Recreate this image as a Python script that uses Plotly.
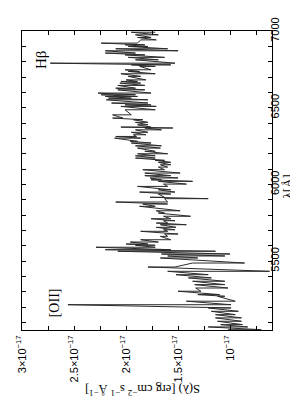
import plotly.graph_objects as go

# Spectrum: for each wavelength sample, the local
# high and low of the jagged trace (flux in units of 1e-17 erg cm^-2 s^-1 A^-1)
wave_rows = [5052, 5070, 5085, 5107, 5129, 5150, 5172, 5194, 5215, 5238,
             5270, 5281, 5303, 5324, 5346, 5368, 5390, 5411, 5433, 5461,
             5487, 5520, 5533, 5546, 5564, 5574, 5590, 5603, 5611, 5624,
             5639, 5661, 5676, 5694, 5704, 5720, 5737, 5748, 5763, 5776,
             5792, 5813, 5828, 5857, 5872, 5885, 5907, 5916, 5937, 5950,
             5965, 5987, 6002, 6020, 6030, 6042, 6057, 6074, 6096, 6113,
             6128, 6144, 6157, 6172, 6187, 6200, 6216, 6237, 6252, 6270,
             6281, 6302, 6313, 6324, 6340, 6356, 6368, 6374, 6389, 6405,
             6422, 6433, 6454, 6487, 6509, 6519, 6531, 6552, 6563, 6574,
             6585, 6596, 6617, 6628, 6646, 6661, 6672, 6682, 6705, 6722,
             6737, 6748, 6770, 6780, 6791, 6813, 6829, 6845, 6857, 6872,
             6885, 6900, 6911, 6922, 6943, 6959, 6976, 6993]
flux_high = [1.02, 1.21, 1.09, 1.12, 1.14, 1.14, 1.18, 1.21, 2.56, 1.42,
             1.12, 1.31, 1.50, 1.33, 1.34, 1.36, 1.40, 1.52, 1.60, 1.79,
             1.36, 1.67, 1.60, 1.66, 2.08, 2.20, 2.29, 1.91, 2.00, 1.96,
             1.86, 1.67, 1.63, 1.86, 1.64, 1.71, 1.67, 1.71, 1.64, 1.76,
             1.64, 1.69, 1.71, 1.87, 1.84, 2.10, 1.63, 1.77, 1.69, 1.87,
             1.69, 1.89, 1.64, 1.69, 1.76, 1.77, 1.82, 1.82, 1.84, 1.69,
             1.67, 1.69, 1.72, 1.91, 1.91, 1.89, 1.82, 1.89, 1.91, 1.95,
             1.96, 2.11, 2.10, 1.93, 1.95, 1.91, 1.82, 2.05, 1.89, 1.91,
             1.93, 2.13, 2.13, 2.01, 2.05, 2.01, 2.14, 2.19, 2.17, 2.20,
             2.24, 2.27, 2.08, 2.10, 2.08, 2.06, 2.05, 2.00, 1.98, 2.05,
             1.98, 2.01, 1.87, 1.95, 2.73, 1.91, 1.98, 2.01, 2.20, 2.20,
             2.10, 1.98, 2.01, 2.24, 1.86, 1.89, 1.91, 1.95]
flux_low = [0.70, 0.83, 0.88, 0.89, 0.89, 0.95, 0.92, 0.99, 0.99, 0.95,
            1.05, 1.10, 1.28, 1.02, 1.05, 1.05, 1.18, 1.21, 0.62, 1.53,
            0.86, 1.31, 1.05, 1.00, 1.14, 1.57, 1.72, 1.72, 1.79, 1.69,
            1.57, 1.60, 1.50, 1.60, 1.53, 1.52, 1.42, 1.60, 1.53, 1.57,
            1.38, 1.63, 1.48, 1.72, 1.60, 1.60, 1.21, 1.63, 1.57, 1.53,
            1.57, 1.60, 1.42, 1.36, 1.66, 1.50, 1.57, 1.48, 1.63, 1.60,
            1.57, 1.57, 1.63, 1.72, 1.72, 1.60, 1.72, 1.67, 1.66, 1.76,
            1.89, 1.86, 1.90, 1.81, 1.79, 1.66, 1.55, 1.76, 1.79, 1.79,
            1.84, 2.03, 1.95, 1.72, 1.71, 1.76, 1.79, 1.79, 1.95, 1.89,
            1.91, 1.76, 1.82, 1.91, 1.82, 1.86, 1.89, 1.81, 1.86, 1.72,
            1.87, 1.76, 1.72, 1.57, 1.53, 1.69, 1.63, 1.82, 1.91, 1.50,
            1.60, 1.79, 1.82, 1.89, 1.71, 1.76, 1.69, 1.72]

flux_ticks = [3.0, 2.5, 2.0, 1.5, 1.0]
flux_labels = ["3×10<sup>−17</sup>", "2.5×10<sup>−17</sup>", "2×10<sup>−17</sup>",
               "1.5×10<sup>−17</sup>", "10<sup>−17</sup>"]
flux_minor = [2.75, 2.25, 1.75, 1.25, 0.75]
wave_ticks = [5500, 6000, 6500, 7000]
wave_labels = ["5500", "6000", "6500", "7000"]

x, y = [], []
for w, hi, lo in zip(wave_rows, flux_high, flux_low):
    x += [hi, lo]
    y += [w, w]

fig = go.Figure()
fig.add_trace(go.Scatter(x=x, y=y, mode="lines",
                         line=dict(color="#2a2a2a", width=1), hoverinfo="skip"))

tickfont = dict(family="Liberation Sans, Arial, sans-serif", size=11, color="black")
serif = "Liberation Serif, Times New Roman, serif"

fig.update_layout(
    template="none",
    width=298, height=399,
    margin=dict(l=14, r=34, t=23, b=77, autoexpand=False),
    plot_bgcolor="white", paper_bgcolor="white",
    showlegend=False,
    xaxis=dict(range=[3.002, 0.596], tickvals=flux_ticks, ticktext=flux_labels,
               tickangle=-90, ticks="inside", ticklen=4, tickcolor="black",
               showline=True, linecolor="black", linewidth=1, mirror="ticks",
               showgrid=False, zeroline=False, tickfont=tickfont, automargin=False,
               minor=dict(tickvals=flux_minor, ticks="inside", ticklen=4,
                          tickcolor="black", showgrid=False)),
    yaxis=dict(range=[5050, 7001], side="right", tickvals=wave_ticks,
               ticktext=wave_labels, tickangle=-90, ticks="inside", ticklen=4,
               tickcolor="black", showline=True, linecolor="black", linewidth=1,
               mirror="ticks", showgrid=False, zeroline=False, tickfont=tickfont,
               automargin=False, ticklabelstandoff=-7,
               minor=dict(dtick=100, ticks="inside", ticklen=4,
                          tickcolor="black", showgrid=False)),
    annotations=[
        dict(text="λ[Å]", xref="paper", yref="paper", x=1.098, y=0.48,
             textangle=-90, showarrow=False, font=dict(family=serif, size=13, color="black")),
        dict(text="S(λ) [erg cm<sup>−2</sup> s<sup>−1</sup> Å<sup>−1</sup>]",
             xref="paper", yref="paper", x=0.484, y=-0.234, textangle=180,
             showarrow=False, font=dict(family=serif, size=12.5, color="black")),
        dict(text="[OII]", xref="x", yref="y", x=2.69, y=5227, textangle=-90,
             showarrow=False, font=dict(family=serif, size=14, color="black")),
        dict(text="Hβ", xref="x", yref="y", x=2.82, y=6811, textangle=-90,
             showarrow=False, font=dict(family=serif, size=15, color="black")),
    ],
)

fig.write_html("out.html")
